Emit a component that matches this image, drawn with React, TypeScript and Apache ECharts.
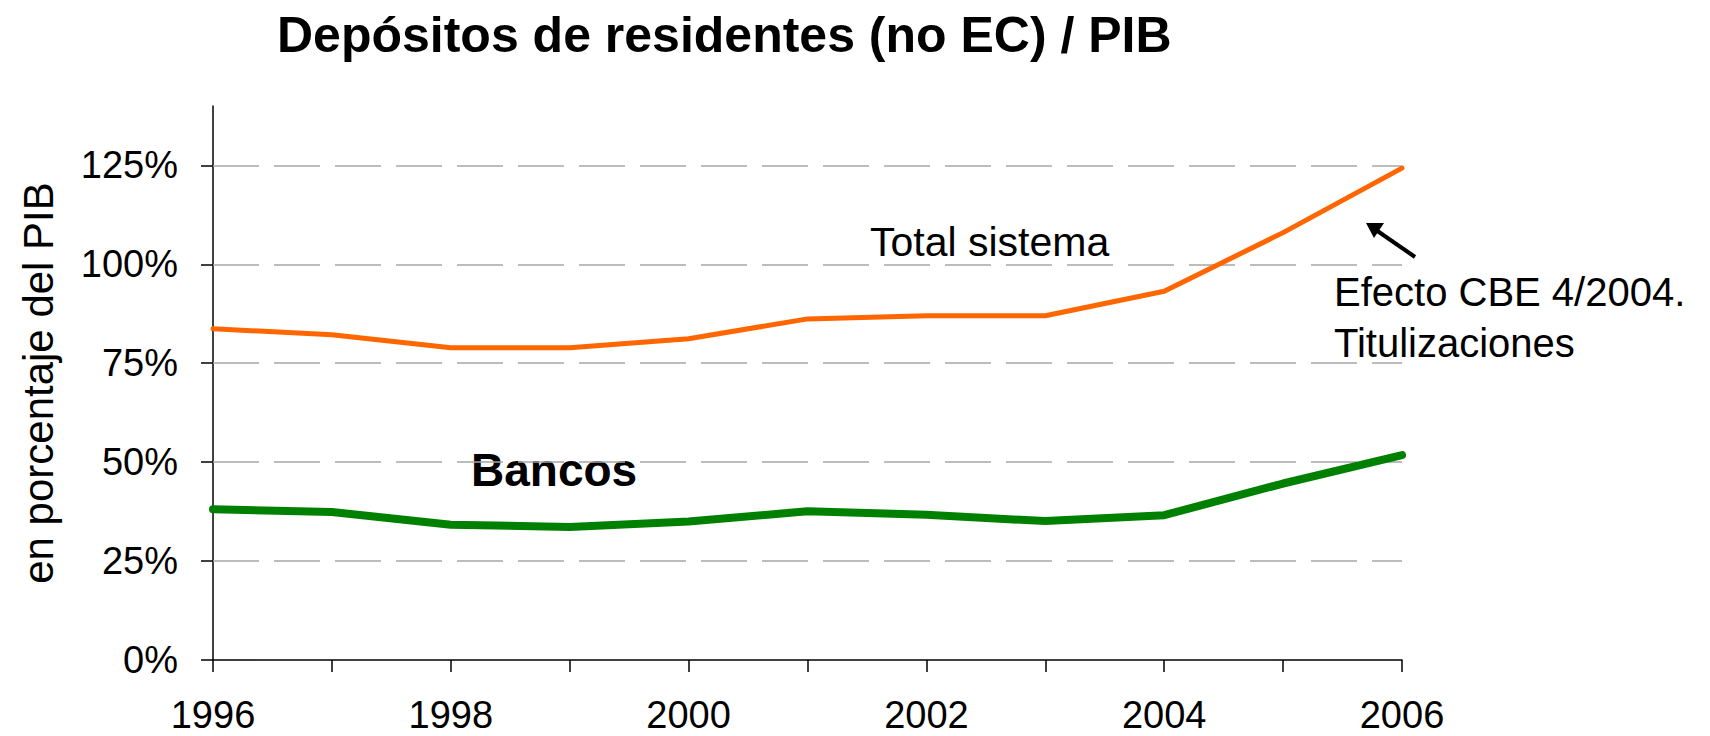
import React, { useEffect, useRef } from "react";
import * as echarts from "echarts";

const years = ["1996", "1997", "1998", "1999", "2000", "2001", "2002", "2003", "2004", "2005", "2006"];
const totalSistema = [83.7, 82.2, 78.9, 78.9, 81.2, 86.2, 87.0, 87.0, 93.2, 108.0, 124.3];
const bancos = [38.1, 37.4, 34.2, 33.6, 35.0, 37.6, 36.7, 35.1, 36.6, 44.6, 51.8];
const yTicks = [0, 25, 50, 75, 100, 125];

const FONT = "'Liberation Sans', Arial, sans-serif";

export default function App() {
  const ref = useRef<HTMLDivElement>(null);
  useEffect(() => {
    document.body.style.margin = "0";
    const chart = echarts.init(ref.current!, null, { renderer: "svg" });
    chart.setOption({
      animation: false,
      backgroundColor: "#ffffff",
      textStyle: { fontFamily: FONT, color: "#000" },
      title: {
        text: "Depósitos de residentes (no EC) / PIB",
        left: 272,
        top: 5,
        textStyle: { fontFamily: FONT, fontSize: 50, fontWeight: "bold", color: "#000" },
      },
      grid: { left: 213, right: 308, top: 106, bottom: 76, outerBoundsMode: "none" },
      xAxis: {
        type: "category",
        data: years,
        boundaryGap: false,
        axisLine: { lineStyle: { color: "#000", width: 1.5 } },
        axisTick: { show: true, interval: 0, length: 12, lineStyle: { color: "#000", width: 1.5 } },
        axisLabel: { interval: 1, margin: 36, fontSize: 38, fontFamily: FONT, color: "#000" },
        splitLine: { show: false },
      },
      yAxis: {
        type: "value",
        min: 0,
        max: 140,
        name: "en porcentaje del PIB",
        nameLocation: "middle",
        nameRotate: 90,
        nameGap: 154,
        nameTextStyle: { fontSize: 42, fontFamily: FONT, color: "#000" },
        axisLine: { show: true, lineStyle: { color: "#000", width: 1.5 } },
        axisTick: { show: true, length: 12, customValues: yTicks, lineStyle: { color: "#000", width: 1.5 } },
        axisLabel: {
          margin: 35,
          fontSize: 38,
          fontFamily: FONT,
          color: "#000",
          customValues: yTicks,
          formatter: (v: number) => v + "%",
        },
        splitLine: { show: false },
      },
      series: [
        {
          name: "Total sistema",
          type: "line",
          data: totalSistema,
          symbol: "none",
          z: 3,
          lineStyle: { color: "#FF6600", width: 5, cap: "round", join: "round" },
          markLine: {
            silent: true,
            symbol: ["none", "none"],
            label: { show: false },
            z: 1,
            lineStyle: { color: "#a6a6a6", width: 1.5, type: [46, 15] },
            data: yTicks.filter((v) => v > 0).map((v) => ({ yAxis: v })),
          },
        },
        {
          name: "Bancos",
          type: "line",
          data: bancos,
          symbol: "none",
          z: 3,
          lineStyle: { color: "#008000", width: 8, cap: "round", join: "round" },
        },
      ],
      graphic: [
        {
          type: "text",
          x: 870,
          y: 242,
          style: { text: "Total sistema", fontSize: 41, fontFamily: FONT, fill: "#000", textVerticalAlign: "middle" },
        },
        {
          type: "text",
          x: 471,
          y: 470,
          style: { text: "Bancos", fontSize: 46, fontWeight: "bold", fontFamily: FONT, fill: "#000", textVerticalAlign: "middle" },
        },
        {
          type: "text",
          x: 1334,
          y: 292,
          style: { text: "Efecto CBE 4/2004.", fontSize: 40, fontFamily: FONT, fill: "#000", textVerticalAlign: "middle" },
        },
        {
          type: "text",
          x: 1334,
          y: 343,
          style: { text: "Titulizaciones", fontSize: 40, fontFamily: FONT, fill: "#000", textVerticalAlign: "middle" },
        },
        {
          type: "line",
          shape: { x1: 1415, y1: 257, x2: 1376, y2: 230 },
          style: { stroke: "#000", lineWidth: 4 },
        },
        {
          type: "polygon",
          shape: { points: [[1366, 223], [1384, 223], [1374, 238]] },
          style: { fill: "#000" },
        },
      ],
    });
    return () => chart.dispose();
  }, []);
  return <div ref={ref} style={{ width: 1710, height: 736 }} />;
}
